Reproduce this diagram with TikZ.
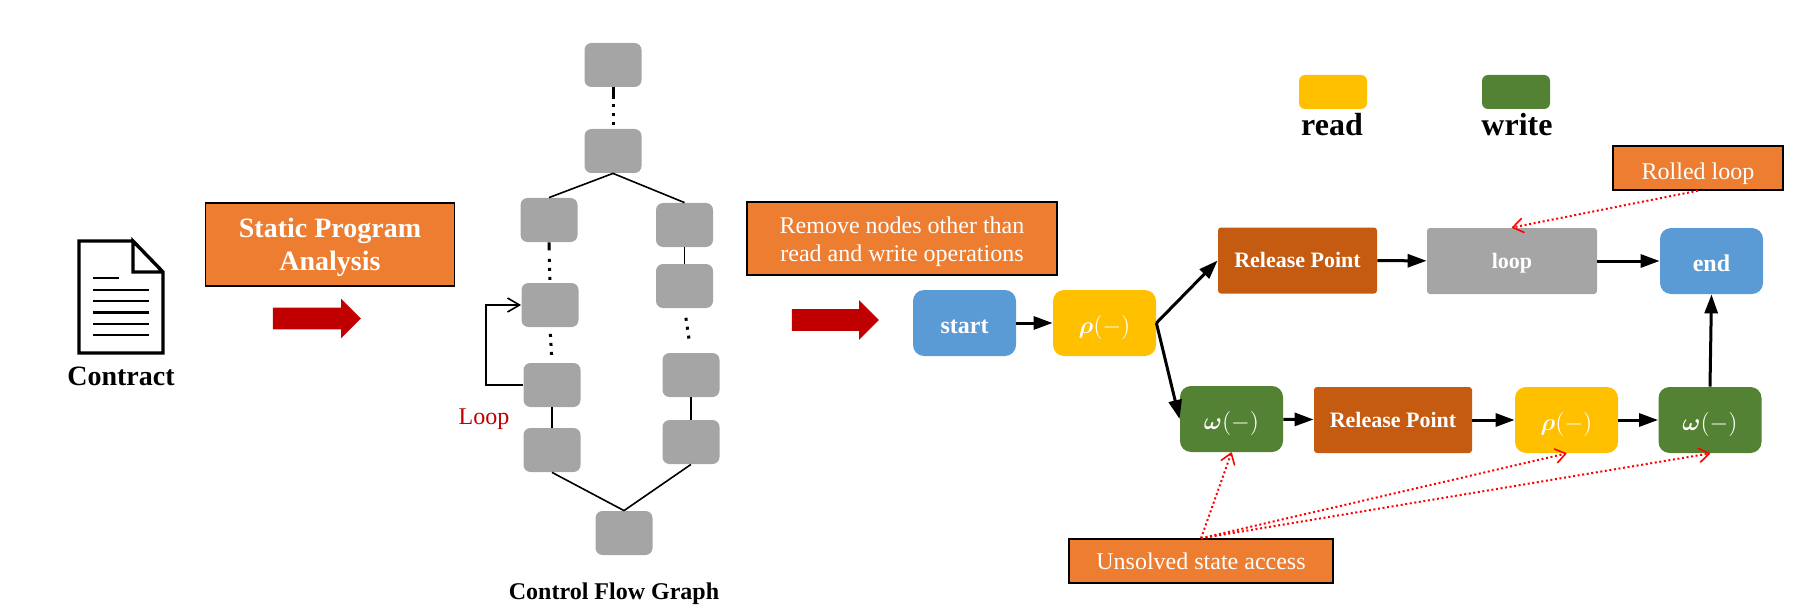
\documentclass[tikz,border=0pt]{standalone}
\usepackage{fontspec}
\usepackage{amsmath}
\setmainfont{Liberation Serif}
\usetikzlibrary{arrows.meta,shapes.arrows}

\definecolor{boxorange}{HTML}{ED7D31}
\definecolor{arrowred}{HTML}{C00000}
\definecolor{nodegray}{HTML}{A5A5A5}
\definecolor{opblue}{HTML}{5B9BD5}
\definecolor{opyellow}{HTML}{FFC000}
\definecolor{opgreen}{HTML}{548235}
\definecolor{opbrown}{HTML}{C55A11}

\begin{document}
\begin{tikzpicture}[
    x=0.5pt, y=-0.5pt,
    cfgnode/.style={rectangle, fill=nodegray, rounded corners=3.5pt, minimum width=28.5pt, minimum height=22pt, inner sep=0pt},
    opnode/.style={rectangle, rounded corners=5.5pt, minimum width=51.5pt, minimum height=33pt, inner sep=0pt, text height=10pt, text depth=0pt, text=white, font=\fontsize{12}{14}\selectfont\bfseries},
    squarenode/.style={rectangle, rounded corners=1.5pt, minimum height=33pt, inner sep=0pt, text height=7pt, text depth=0pt, text=white, font=\fontsize{11}{13}\selectfont\bfseries},
    legendbox/.style={rectangle, rounded corners=3pt, minimum width=34pt, minimum height=17pt, inner sep=0pt},
    legendtext/.style={anchor=base, font=\fontsize{16}{18}\selectfont\bfseries},
    notebox/.style={rectangle, draw=black, line width=0.7pt, fill=boxorange, text=white, inner sep=0pt, align=center, font=\fontsize{12}{14}\selectfont},
    bigarrow/.style={single arrow, fill=arrowred, inner xsep=0pt, inner ysep=5.25pt, minimum width=19.5pt, single arrow head extend=4.5pt, single arrow head indent=0pt},
    cfgline/.style={line width=0.8pt},
    arrow/.style={line width=1.5pt, -{Triangle[length=9.5pt,width=6.5pt]}},
    noteline/.style={red, line width=1pt, dash pattern=on 1pt off 1.3pt, -{Straight Barb[length=5pt,width=7pt,line width=0.8pt,round]}}
]
\useasboundingbox (0,0) rectangle (1811,615);

% Contract icon
\draw[line width=1.7pt, fill=white, line join=miter] (133,241) -- (79,241) -- (79,353) -- (163,353) -- (163,272) -- (133,241) -- (133,272) -- (163,272);
\draw[line width=1.4pt] (93,278) -- (119,278);
\foreach \y in {290,301,312.5,324,335}
    \draw[line width=1.4pt] (93,\y) -- (149,\y);
\node[anchor=base, font=\fontsize{14}{16}\selectfont\bfseries] (contract) at (121,385) {Contract};

% Static analysis step
\node[notebox, minimum width=124.5pt, minimum height=41.5pt, font=\fontsize{14}{16.5}\selectfont\bfseries] (analysis) at (330,244.5) {\rule{0pt}{13pt}Static Program\\Analysis};
\node[bigarrow, minimum height=44pt] (arrowa) at (311.5,318.5) {};

% Control flow graph
\node[cfgnode] (c1) at (613,65) {};
\node[cfgnode] (c2) at (613,151) {};
\node[cfgnode] (l1) at (549,220) {};
\node[cfgnode] (l2) at (550,305) {};
\node[cfgnode] (l3) at (552,385) {};
\node[cfgnode] (l4) at (552,450) {};
\node[cfgnode] (r1) at (684.5,225) {};
\node[cfgnode] (r2) at (684.5,286) {};
\node[cfgnode] (r3) at (691,375) {};
\node[cfgnode] (r4) at (691,442) {};
\node[cfgnode] (c3) at (624,533) {};
\node[font=\fontsize{12}{14}\selectfont\bfseries] (cfgtitle) at (614,594) {Control Flow Graph};

\draw[line width=1.5pt, dash pattern=on 6pt off 2.5pt on 1.5pt off 3pt on 1.5pt off 3pt on 1.5pt off 20pt] (c1.south) -- (c2.north);
\draw[line width=1.5pt, dash pattern=on 4pt off 4.25pt on 1.5pt off 3pt on 1.5pt off 3pt on 1.5pt off 20pt] (l1.south) -- (l2.north);
\draw[line width=1.5pt, dash pattern=on 0pt off 3.25pt on 1.5pt off 3pt on 1.5pt off 3pt on 1.5pt off 20pt] (l2.south) -- (l3.north);
\draw[line width=1.5pt, dash pattern=on 0pt off 4.75pt on 1.5pt off 3pt on 1.5pt off 3pt on 1.5pt off 20pt] (r2.south) -- (r3.north);
\draw[cfgline] (c2.south) -- (l1.north);
\draw[cfgline] (c2.south) -- (r1.north);
\draw[cfgline] (l3.south) -- (l4.north);
\draw[cfgline] (r1.south) -- (r2.north);
\draw[cfgline] (r3.south) -- (r4.north);
\draw[cfgline] (l4.south) -- (c3.north);
\draw[cfgline] (r4.south) -- (c3.north);
\draw[cfgline, -{Straight Barb[length=6pt,width=7pt,line width=0.8pt]}] (l3.west) -- (486,385) -- (486,305) -- (l2.west);
\node[text=arrowred, font=\fontsize{12}{14}\selectfont] (looplabel) at (484,419) {Loop};

% Remove step
\node[notebox, minimum width=155pt, minimum height=36.5pt] (remove) at (902,238.5) {\rule{0pt}{11.5pt}Remove nodes other than\\read and write operations};
\node[bigarrow, minimum height=43.5pt] (arrowb) at (830,320) {};

% Legend
\node[legendbox, fill=opyellow] (readbox) at (1333,92) {};
\node[legendbox, fill=opgreen] (writebox) at (1516,92) {};
\node[legendtext] (readtext) at (1332,136) {read};
\node[legendtext] (writetext) at (1517,136) {write};

% Read and write nodes
\node[opnode, fill=opblue] (start) at (964.5,323) {start};
\node[opnode, fill=opyellow] (rhoa) at (1104.5,323) {\fontsize{13}{14}\selectfont$\boldsymbol{\rho}(-)$};
\node[squarenode, fill=opbrown, minimum width=79.5pt] (releasea) at (1297.5,260.5) {Release Point};
\node[squarenode, fill=nodegray, minimum width=85pt] (loop) at (1512,261) {loop};
\node[opnode, fill=opblue] (end) at (1711.5,261) {end};
\node[opnode, fill=opgreen] (omegaa) at (1231.5,419) {$\boldsymbol{\omega}(-)$};
\node[squarenode, fill=opbrown, minimum width=79pt] (releaseb) at (1393,420) {Release Point};
\node[opnode, fill=opyellow] (rhob) at (1566.5,420) {\fontsize{13}{14}\selectfont$\boldsymbol{\rho}(-)$};
\node[opnode, fill=opgreen] (omegab) at (1710,420) {$\boldsymbol{\omega}(-)$};

\draw[arrow] (start) -- (rhoa);
\draw[arrow] (rhoa.east) -- (releasea.west);
\draw[arrow] (rhoa.east) -- (omegaa.west);
\draw[arrow] (releasea) -- (loop);
\draw[arrow] (loop) -- (end);
\draw[arrow] (omegaa) -- (releaseb);
\draw[arrow] (releaseb) -- (rhob);
\draw[arrow] (rhob) -- (omegab);
\draw[arrow] (omegab.north) -- (end.south);

% Notes
\node[notebox, minimum width=85pt, minimum height=22pt, text height=11pt, text depth=0pt] (rolled) at (1698,168) {Rolled loop};
\node[notebox, minimum width=132pt, minimum height=22pt, text height=8pt, text depth=0pt] (unsolved) at (1201,561) {Unsolved state access};
\draw[noteline] (rolled.south) -- (loop.north);
\draw[noteline] (unsolved.north) -- (omegaa.south);
\draw[noteline] (unsolved.north) -- (rhob.south);
\draw[noteline] (unsolved.north) -- (omegab.south);

\end{tikzpicture}
\end{document}
